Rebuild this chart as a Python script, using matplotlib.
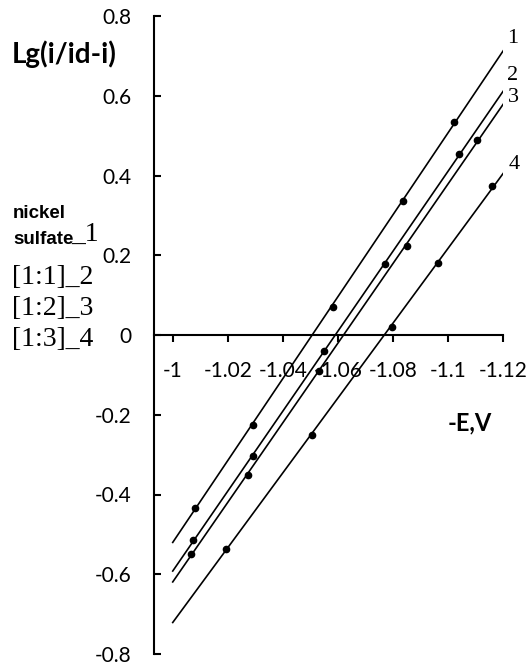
import numpy as np
import matplotlib
matplotlib.use("Agg")
import matplotlib.pyplot as plt
from matplotlib.ticker import FormatStrFormatter

plt.rcParams['axes.unicode_minus'] = False

# potentials (E, V) and Lg(i/id-i)
E1 = [-1.008, -1.029, -1.058, -1.0835, -1.102]
y1 = [-0.433, -0.225, 0.071, 0.336, 0.533]
E2 = [-1.0075, -1.029, -1.055, -1.077, -1.104]
y2 = [-0.513, -0.304, -0.041, 0.177, 0.455]
E3 = [-1.0066, -1.0272, -1.053, -1.0849, -1.1103]
y3 = [-0.549, -0.351, -0.090, 0.222, 0.488]
E4 = [-1.0192, -1.0505, -1.0797, -1.0962, -1.116]
y4 = [-0.536, -0.250, 0.021, 0.181, 0.374]
curve_names = ['1', '2', '3', '4']

xticks = [-1, -1.02, -1.04, -1.06, -1.08, -1.1, -1.12]
yticks = [-0.8, -0.6, -0.4, -0.2, 0, 0.2, 0.4, 0.6, 0.8]

W, H = 529, 666
fig = plt.figure(figsize=(W / 100, H / 100), dpi=100)
ax = fig.add_axes([154 / W, 1 - 654 / H, (503.3 - 154) / W, (654 - 16) / H])

# offsets of the curve numbers from the line ends (points)
name_offsets = [(3, 9), (3, 11), (3, 4.5), (4, 6)]

E_fit = np.array([-1.0, -1.12])
for E, y, name, off in zip([E1, E2, E3, E4], [y1, y2, y3, y4],
                           curve_names, name_offsets):
    k, b = np.polyfit(E, y, 1)   # linear trend line
    ax.plot(E_fit, k * E_fit + b, color='black', lw=1.2)
    ax.plot(E, y, 'o', color='black', ms=4.5)
    ax.annotate(name, (E_fit[-1], k * E_fit[-1] + b), xytext=off,
                textcoords='offset points', family='Liberation Serif',
                fontsize=16, ha='left', va='center', annotation_clip=False)

ax.set_xlim(-0.9932, -1.12)
ax.set_ylim(-0.8, 0.8)
ax.set_xticks(xticks)
ax.set_yticks(yticks)
ax.xaxis.set_major_formatter(FormatStrFormatter('%g'))
ax.yaxis.set_major_formatter(FormatStrFormatter('%g'))

ax.spines['top'].set_visible(False)
ax.spines['right'].set_visible(False)
ax.spines['bottom'].set_position(('data', 0))
ax.spines['left'].set_linewidth(1.5)
ax.spines['bottom'].set_linewidth(1.5)
ax.tick_params(axis='y', direction='in', length=5, width=1.5, pad=16,
               labelsize=15, labelfontfamily='Lato')
ax.tick_params(axis='x', direction='out', length=5, width=1.5, pad=14,
               labelsize=15, labelfontfamily='Lato')

fig.text(12 / W, 1 - 54 / H, 'Lg(i/id-i)', family='Lato', weight='bold',
         fontsize=20, ha='left', va='center')
fig.text(448 / W, 1 - 423 / H, '-E,V', family='Lato', weight='bold',
         fontsize=17, ha='left', va='center')

# legend block on the left
fig.text(13 / W, 1 - 213 / H, 'nickel', family='Liberation Sans',
         weight='bold', fontsize=13.5, ha='left', va='center')
fig.text(13 / W, 1 - 239 / H, 'sulfate', family='Liberation Sans',
         weight='bold', fontsize=13.5, ha='left', va='center')
fig.text(71 / W, 1 - 234 / H, '_1', family='Liberation Serif',
         fontsize=20, ha='left', va='center')
legend_rows = ['[1:1]_2', '[1:2]_3', '[1:3]_4']
for i, row in enumerate(legend_rows):
    fig.text(12 / W, 1 - (277 + 31.5 * i) / H, row, family='Liberation Serif',
             fontsize=20, ha='left', va='center')

fig.savefig('out.png', dpi=100)
